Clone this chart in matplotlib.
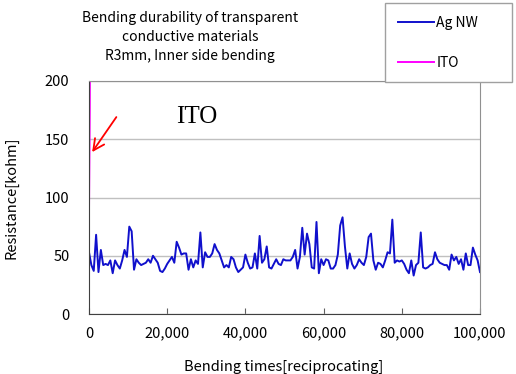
import numpy as np
import matplotlib.pyplot as plt
from matplotlib.ticker import FuncFormatter

plt.rcParams['font.family'] = ['Noto Sans CJK JP', 'DejaVu Sans']

# Ag NW resistance [kohm] (evenly spaced over 0..100,000 cycles)
agnw = [53, 42, 37, 68, 36, 55, 42, 43, 42, 46, 35, 46, 42, 39, 46, 55, 49, 75, 71, 38,
        47, 44, 42, 43, 44, 47, 44, 50, 47, 44, 37, 36, 39, 43, 46, 49, 44, 62, 57, 51,
        52, 52, 38, 47, 40, 46, 43, 70, 40, 53, 49, 49, 52, 60, 55, 52, 46, 40, 42, 40,
        49, 47, 40, 36, 38, 40, 51, 44, 39, 40, 52, 39, 67, 44, 47, 58, 40, 39, 43, 47,
        43, 42, 47, 46, 46, 46, 49, 55, 39, 49,
        74, 51, 69, 60, 40, 39, 79, 35, 47, 42, 47, 46, 39, 39, 42, 51, 76, 83, 58, 39,
        52, 43, 39, 42, 47, 44, 42, 49, 66, 69, 46, 38, 44, 43, 40, 46, 53, 52, 81, 44,
        46, 45, 46, 43, 38, 35, 46, 33, 42, 44, 70, 40, 39, 40, 42, 43, 53, 47, 44, 43,
        42, 42, 38, 51, 46, 49, 43, 47, 38, 52, 42, 42, 57, 51, 46, 36]
agnw_cycles = np.linspace(0, 100000, len(agnw))

# ITO: shoots off the top almost immediately
ito_cycles = [0, 100, 200, 300]
ito = [89, 130, 175, 260]

fig = plt.figure(figsize=(5.16, 3.74), dpi=100)
ax = fig.add_axes([89/516, 60/374, 391/516, 233/374])

ax.plot(agnw_cycles, agnw, color='#1010cc', lw=1.4, label='Ag NW')
ax.plot(ito_cycles, ito, color='#ff00ff', lw=1.4, label='ITO')

ax.set_xlim(0, 100000)
ax.set_ylim(0, 200)
ax.set_xticks(np.arange(0, 100001, 20000))
ax.set_yticks(np.arange(0, 201, 50))
ax.xaxis.set_major_formatter(FuncFormatter(lambda v, p: f'{int(v):,}'))
ax.grid(axis='y', color='#c0c0c0', lw=1)
ax.set_axisbelow(True)
ax.tick_params(axis='x', direction='in', length=4, pad=9, labelsize=10.5, color='#606060')
ax.tick_params(axis='y', length=0, pad=14, labelsize=10.5)
for side in ['left', 'bottom']:
    ax.spines[side].set_color('#404040')
for side in ['top', 'right']:
    ax.spines[side].set_color('#909090')

ax.set_xlabel('Bending times[reciprocating]', fontsize=10.5)
ax.xaxis.set_label_coords(0.497, -0.195)
ax.set_ylabel('Resistance[kohm]', fontsize=10.5)
ax.yaxis.set_label_coords(-0.18, 0.5)

# Annotation pointing at the ITO curve
ax.annotate('', xy=(400, 137), xytext=(7400, 171),
            arrowprops=dict(arrowstyle='->', color='red', lw=1.3, mutation_scale=20))
ax.text(27500, 169, 'ITO', fontsize=18, family='Liberation Serif', ha='center', va='center')

fig.text(190/516, 1 - 37/374,
         'Bending durability of transparent\nconductive materials\nR3mm, Inner side bending',
         ha='center', va='center', fontsize=10, linespacing=1.45)

leg = fig.legend(loc='upper left', bbox_to_anchor=(385/516, 1 - 3/374, 127/516, 0),
                 mode='expand', borderaxespad=0, fontsize=10, labelspacing=1.9,
                 handlelength=2.6, handletextpad=0.2, borderpad=0.9,
                 fancybox=False, framealpha=1)
leg.get_frame().set_edgecolor('#a0a0a0')

fig.savefig('out.png', dpi=100)
